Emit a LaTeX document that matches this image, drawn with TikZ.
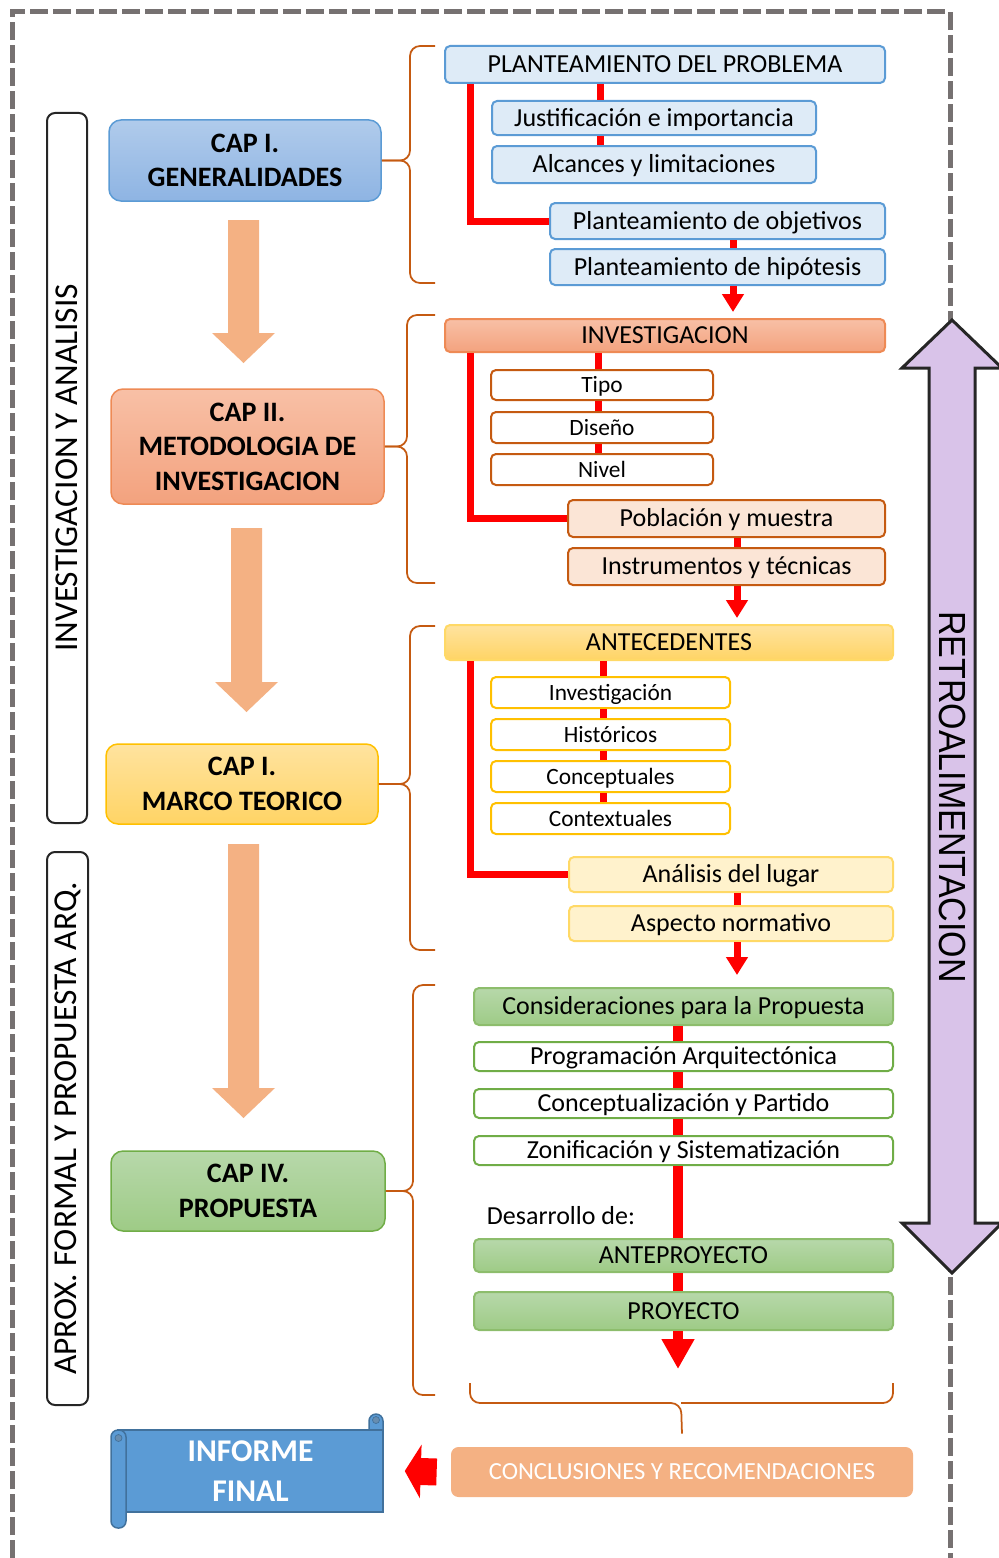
\documentclass[tikz,border=0pt]{standalone}
\usepackage{fontspec}
\setmainfont{Carlito}
\newfontfamily\narrowfont[FakeStretch=0.9]{Liberation Sans}
\usepackage{xcolor}
\usepackage{tikz}
\usetikzlibrary{arrows.meta}

\definecolor{framegray}{HTML}{767171}
\definecolor{blueline}{HTML}{5B9BD5}
\definecolor{bluefill}{HTML}{DEEBF7}
\definecolor{captopblue}{HTML}{B0CBEB}
\definecolor{capbotblue}{HTML}{8EB4E3}
\definecolor{salmontop}{HTML}{F8C0A6}
\definecolor{salmonbot}{HTML}{F3A27E}
\definecolor{salmonline}{HTML}{EE8A55}
\definecolor{darkorange}{HTML}{C55A11}
\definecolor{peach}{HTML}{FBE5D6}
\definecolor{yellowtop}{HTML}{FFE39F}
\definecolor{yellowbot}{HTML}{FFD465}
\definecolor{yellowline}{HTML}{FFC000}
\definecolor{yellowfill}{HTML}{FFF2CC}
\definecolor{yellowlight}{HTML}{FFD966}
\definecolor{greentop}{HTML}{B7D8AA}
\definecolor{greenbot}{HTML}{9ECB86}
\definecolor{greenline}{HTML}{70AD47}
\definecolor{arrowsalmon}{HTML}{F4B183}
\definecolor{lavender}{HTML}{D9C3E9}
\definecolor{scrollblue}{HTML}{5B9BD5}
\definecolor{scrollline}{HTML}{41719C}

\tikzset{boxdim/.style 2 args={minimum width=#1*0.2mm, minimum height=#2*0.2mm}}
\tikzstyle{boxbase} = [rectangle, rounded corners=1mm, inner sep=0pt,
text centered, line width=0.4mm, text height=9.5pt, text depth=0pt,
font=\fontsize{14.8}{17}\selectfont]
\tikzstyle{smallbox} = [boxbase, text height=8.6pt, font=\fontsize{13.3}{15}\selectfont]
\tikzstyle{capbox} = [rectangle, rounded corners=2.4mm, inner sep=0pt,
align=center, line width=0.3mm,
font=\bfseries\fontsize{16}{19.6}\selectfont]
\tikzstyle{bluebox} = [boxbase, draw=blueline, fill=bluefill]
\tikzstyle{salmonhead} = [boxbase, draw=salmonline, top color=salmontop, bottom color=salmonbot]
\tikzstyle{orangebox} = [smallbox, draw=darkorange, fill=white]
\tikzstyle{peachbox} = [boxbase, draw=darkorange, fill=peach]
\tikzstyle{yellowhead} = [boxbase, draw=yellowlight, top color=yellowtop, bottom color=yellowbot]
\tikzstyle{yellowbox} = [smallbox, draw=yellowline, fill=white]
\tikzstyle{creambox} = [boxbase, draw=yellowlight, fill=yellowfill]
\tikzstyle{greenhead} = [boxbase, draw=greenline!80, top color=greentop, bottom color=greenbot]
\tikzstyle{greenbox} = [boxbase, draw=greenline, fill=white]
\tikzstyle{sidelabel} = [rectangle, rounded corners=1.6mm, draw=black!85,
line width=0.4mm, inner sep=0pt, font=\fontsize{19}{22}\selectfont]
\tikzstyle{redline} = [draw=red, line width=1.4mm]
\tikzstyle{redarrow} = [redline, -{Triangle[length=3.6mm,width=4.2mm]}]
\tikzstyle{bracket} = [draw=darkorange, line width=0.35mm, rounded corners=2mm]
\tikzstyle{dashframe} = [draw=framegray, line width=1mm, dash pattern=on 3.6mm off 1mm]
\tikzstyle{fatarrow} = [fill=arrowsalmon]

\begin{document}
\begin{tikzpicture}[x=0.2mm, y=-0.2mm]
\useasboundingbox (0,0) rectangle (998,1558);

\draw [dashframe] (12,1558) -- (12,12) -- (950,12) -- (950,1558);

% side labels
\node (lab1) [sidelabel, boxdim={710}{40}, rotate=90] at (67,468) {INVESTIGACION Y ANALISIS};
\node (lab2) [sidelabel, boxdim={553}{41}, rotate=90] at (67.5,1128.5) {APROX. FORMAL Y PROPUESTA ARQ.};

% chapters
\node (cap1) [capbox, draw=blueline, top color=captopblue, bottom color=capbotblue, boxdim={272}{81}] at (245,160.5) {CAP I.\\GENERALIDADES};
\node (cap2) [capbox, draw=salmonline, top color=salmontop, bottom color=salmonbot, boxdim={273}{115}] at (247.5,446.5) {CAP II.\\METODOLOGIA DE\\INVESTIGACION};
\node (cap3) [capbox, draw=yellowline, top color=yellowtop, bottom color=yellowbot, boxdim={272}{80}] at (242,784) {CAP I.\\MARCO TEORICO};
\node (cap4) [capbox, draw=greenline, top color=greentop, bottom color=greenbot, boxdim={274}{80}] at (248,1191) {CAP IV.\\PROPUESTA};

\fill [fatarrow] (228,220) -- (259,220) -- (259,333) -- (275,333) -- (243.5,363) -- (212,333) -- (228,333) -- cycle;
\fill [fatarrow] (231,528) -- (262,528) -- (262,682) -- (278,682) -- (246.5,712) -- (215,682) -- (231,682) -- cycle;
\fill [fatarrow] (228,844) -- (259,844) -- (259,1088) -- (275,1088) -- (243.5,1118) -- (212,1088) -- (228,1088) -- cycle;

% generalidades
\node (prob) [bluebox, boxdim={440}{37}] at (665,64.5) {PLANTEAMIENTO DEL PROBLEMA};
\node (just) [bluebox, boxdim={324}{34}] at (654,118) {Justificación e importancia};
\node (alc) [bluebox, boxdim={324}{37}] at (654,164.5) {Alcances y limitaciones};
\node (obj) [bluebox, boxdim={335}{36}] at (717.5,221) {Planteamiento de objetivos};
\node (hip) [bluebox, boxdim={335}{36}] at (717.5,267) {Planteamiento de hipótesis};

% metodologia
\node (inv) [salmonhead, boxdim={440}{33}] at (665,335.5) {INVESTIGACION};
\node (tipo) [orangebox, boxdim={222}{30}] at (602,385) {Tipo};
\node (dis) [orangebox, boxdim={222}{31}] at (602,427.5) {Diseño};
\node (niv) [orangebox, boxdim={222}{31}] at (602,469.5) {Nivel};
\node (pob) [peachbox, boxdim={317}{37}] at (726.5,518.5) {Población y muestra};
\node (instr) [peachbox, boxdim={317}{37}] at (726.5,566.5) {Instrumentos y técnicas};

% marco teorico
\node (ante) [yellowhead, boxdim={448}{35}] at (669,642.5) {ANTECEDENTES};
\node (invest) [yellowbox, boxdim={239}{31}] at (610.5,692.5) {Investigación};
\node (hist) [yellowbox, boxdim={239}{31}] at (610.5,734.5) {Históricos};
\node (conc) [yellowbox, boxdim={239}{31}] at (610.5,776.5) {Conceptuales};
\node (cont) [yellowbox, boxdim={239}{31}] at (610.5,818.5) {Contextuales};
\node (anal) [creambox, boxdim={324}{35}] at (731,874.5) {Análisis del lugar};
\node (asp) [creambox, boxdim={324}{35}] at (731,923.5) {Aspecto normativo};

% propuesta
\node (consid) [greenhead, boxdim={419}{37}] at (683.5,1006.5) {Consideraciones para la Propuesta};
\node (prog) [greenbox, boxdim={419}{29}] at (683.5,1056.5) {Programación Arquitectónica};
\node (concep) [greenbox, boxdim={419}{29}] at (683.5,1103.5) {Conceptualización y Partido};
\node (zon) [greenbox, boxdim={419}{29}] at (683.5,1150.5) {Zonificación y Sistematización};
\node (desa) [font=\fontsize{14.8}{17}\selectfont] at (561,1216) {Desarrollo de:};
\node (antep) [greenhead, boxdim={419}{33}] at (683.5,1255.5) {ANTEPROYECTO};
\node (proy) [greenhead, boxdim={419}{38}] at (683.5,1311) {PROYECTO};

% spines
\coordinate (sp1) at (600,0);
\coordinate (sp2) at (598,0);
\coordinate (sp3) at (603,0);
\coordinate (sp4) at (678,0);
\coordinate (lx) at (470,0);
\coordinate (ax1) at (733,0);
\coordinate (ax2) at (737,0);
\coordinate (end3) at (737,975);
\coordinate (end4) at (678,1369);

\draw [redline] (sp1 |- prob.south) -- (sp1 |- just.north);
\draw [redline] (sp1 |- just.south) -- (sp1 |- alc.north);
\draw [redline] (lx |- prob.south) |- (obj.west);
\draw [redline] (ax1 |- obj.south) -- (ax1 |- hip.north);
\draw [redarrow] (ax1 |- hip.south) -- ([yshift=1.2mm]ax1 |- inv.north);

\draw [redline] (sp2 |- inv.south) -- (sp2 |- tipo.north);
\draw [redline] (sp2 |- tipo.south) -- (sp2 |- dis.north);
\draw [redline] (sp2 |- dis.south) -- (sp2 |- niv.north);
\draw [redline] (lx |- inv.south) |- (pob.west);
\draw [redline] (ax2 |- pob.south) -- (ax2 |- instr.north);
\draw [redarrow] (ax2 |- instr.south) -- ([yshift=1.2mm]ax2 |- ante.north);

\draw [redline] (sp3 |- ante.south) -- (sp3 |- invest.north);
\draw [redline] (sp3 |- invest.south) -- (sp3 |- hist.north);
\draw [redline] (sp3 |- hist.south) -- (sp3 |- conc.north);
\draw [redline] (sp3 |- conc.south) -- (sp3 |- cont.north);
\draw [redline] (lx |- ante.south) |- (anal.west);
\draw [redline] (ax2 |- anal.south) -- (ax2 |- asp.north);
\draw [redarrow] (ax2 |- asp.south) -- (end3);

\draw [redline, line width=2mm] (sp4 |- consid.south) -- (sp4 |- prog.north);
\draw [redline, line width=2mm] (sp4 |- prog.south) -- (sp4 |- concep.north);
\draw [redline, line width=2mm] (sp4 |- concep.south) -- (sp4 |- zon.north);
\draw [redline, line width=2mm] (sp4 |- zon.south) -- (sp4 |- antep.north);
\draw [redline, line width=2mm] (sp4 |- antep.south) -- (sp4 |- proy.north);
\draw [redline, line width=2mm, -{Triangle[length=6mm,width=6.2mm]}] (sp4 |- proy.south) -- (end4);

% braces
\draw [bracket] (435,46) -- (410,46) -- (410,0 |- cap1.east) -- (cap1.east);
\draw [bracket] (cap1.east) -- (410,0 |- cap1.east) -- (410,283) -- (435,283);
\draw [bracket] (435,315) -- (407,315) -- (407,0 |- cap2.east) -- (cap2.east);
\draw [bracket] (cap2.east) -- (407,0 |- cap2.east) -- (407,583) -- (435,583);
\draw [bracket] (435,626) -- (410,626) -- (410,0 |- cap3.east) -- (cap3.east);
\draw [bracket] (cap3.east) -- (410,0 |- cap3.east) -- (410,950) -- (435,950);
\draw [bracket] (435,985) -- (413,985) -- (413,0 |- cap4.east) -- (cap4.east);
\draw [bracket] (cap4.east) -- (413,0 |- cap4.east) -- (413,1395) -- (435,1395);

% bottom
\node (concl) [rectangle, rounded corners=1.5mm, fill=arrowsalmon, text=white, boxdim={462}{50},
font=\fontsize{14}{16}\selectfont] at (682,1472) {CONCLUSIONES Y RECOMENDACIONES};
\draw [bracket] (470,1383) -- (470,1403) -- (681,1403) -- ([yshift=2.6mm]concl.north);
\draw [bracket] (893,1383) -- (893,1403) -- (681,1403);

\filldraw [fill=scrollblue, draw=scrollline, line width=0.3mm, rounded corners=1.4mm] (369,1440) rectangle (383,1414);
\node (informe) [rectangle, fill=scrollblue, draw=scrollline, line width=0.3mm, text=white, align=center,
boxdim={265}{82}, font=\bfseries\fontsize{18}{22.8}\selectfont] at (250.5,1471) {INFORME\\FINAL};
\filldraw [fill=scrollblue, draw=scrollline, line width=0.3mm, rounded corners=1.4mm] (111,1430) rectangle (126,1528);
\filldraw [fill=scrollline!80, draw=scrollline] (118.5,1438) circle (3.5);
\filldraw [fill=scrollline!80, draw=scrollline] (376,1420) circle (3.5);

\draw [draw=red, line width=5.4mm, -{Triangle[length=3.2mm,width=10.6mm]}] ([xshift=-2.8mm]concl.west) -- ([xshift=4.2mm]informe.east);

% retroalimentacion
\filldraw [fill=lavender, draw=black!85, line width=0.6mm] (952,320) -- (1002,368) -- (975,368) -- (975,1223) -- (1002,1223) -- (952,1273) -- (902,1223) -- (929,1223) -- (929,368) -- (902,368) -- cycle;
\node (retro) [rotate=-90, font=\narrowfont\fontsize{21.5}{24}\selectfont] at (952,797) {RETROALIMENTACION};

\end{tikzpicture}
\end{document}
